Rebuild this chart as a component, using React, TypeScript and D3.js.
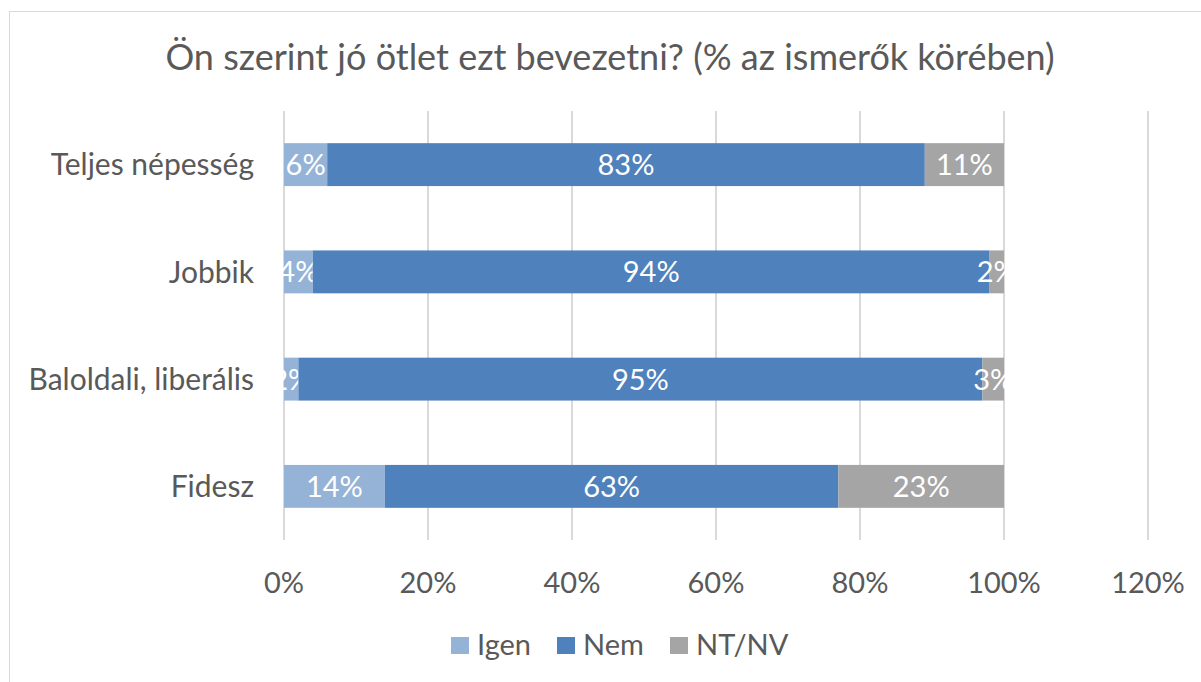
import React from "react";
import * as d3 from "d3";

const categories = ["Teljes népesség", "Jobbik", "Baloldali, liberális", "Fidesz"];
const seriesNames = ["Igen", "Nem", "NT/NV"];
const igen = [6, 4, 2, 14];
const nem = [83, 94, 95, 63];
const ntnv = [11, 2, 3, 23];
const xTicks = [0, 20, 40, 60, 80, 100, 120];
const colors = ["#95B3D7", "#4F81BD", "#A5A5A5"];

const W = 1201;
const H = 682;
const FONT = "Lato, 'Open Sans', sans-serif";
const TXT = "#595959";

export default function App() {
  const x = d3.scaleLinear().domain([0, 120]).range([284, 1148]);
  const y = d3.scaleBand().domain(categories).range([111, 540]).paddingInner(0.6).paddingOuter(0.3);
  const rows = categories.map((c, i) => {
    const vals = [igen[i], nem[i], ntnv[i]];
    let acc = 0;
    return vals.map((v, k) => {
      const s = { cat: c, k, v, x0: acc, x1: acc + v };
      acc += v;
      return s;
    });
  });
  const legendX = [451, 557, 670];
  return (
    <svg width={W} height={H} style={{ position: "absolute", left: 0, top: 0, background: "#fff" }}>
      <rect x={9.5} y={11.5} width={W} height={H} fill="#fff" stroke="#D9D9D9" strokeWidth={1} />
      <text x={610} y={70} textAnchor="middle" fontFamily={FONT} fontSize={36} fill={TXT}>
        Ön szerint jó ötlet ezt bevezetni? (% az ismerők körében)
      </text>
      {xTicks.map((t) => (
        <line key={t} x1={x(t)} x2={x(t)} y1={111} y2={540} stroke="#D9D9D9" strokeWidth={2} />
      ))}
      {rows.map((segs) =>
        segs.map((s) => (
          <g key={s.cat + s.k}>
            <rect x={x(s.x0)} y={y(s.cat)} width={x(s.x1) - x(s.x0)} height={y.bandwidth()} fill={colors[s.k]} />
            <text
              x={(x(s.x0) + x(s.x1)) / 2}
              y={(y(s.cat) as number) + y.bandwidth() / 2}
              dy="0.36em"
              textAnchor="middle"
              fontFamily={FONT}
              fontSize={29}
              fill="#fff"
            >
              {s.v}%
            </text>
          </g>
        ))
      )}
      {categories.map((c) => (
        <text key={c} x={254} y={(y(c) as number) + y.bandwidth() / 2} dy="0.36em" textAnchor="end" fontFamily={FONT} fontSize={30} fill={TXT}>
          {c}
        </text>
      ))}
      {xTicks.map((t) => (
        <text key={"l" + t} x={x(t)} y={583} dy="0.36em" textAnchor="middle" fontFamily={FONT} fontSize={29} fill={TXT}>
          {t}%
        </text>
      ))}
      {seriesNames.map((n, i) => (
        <g key={n}>
          <rect x={legendX[i]} y={637} width={18} height={17} fill={colors[i]} />
          <text x={legendX[i] + 26} y={645} dy="0.36em" fontFamily={FONT} fontSize={29} fill={TXT}>
            {n}
          </text>
        </g>
      ))}
    </svg>
  );
}
